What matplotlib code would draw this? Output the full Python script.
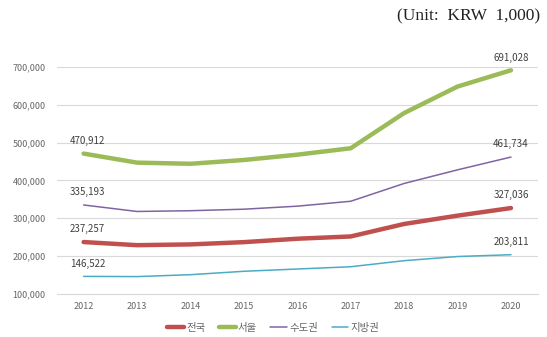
import matplotlib
matplotlib.use('Agg')
import matplotlib.pyplot as plt

plt.rcParams['font.family'] = ['Noto Sans CJK KR', 'DejaVu Sans']

# data
years = ['2012', '2013', '2014', '2015', '2016', '2017', '2018', '2019', '2020']
names = ['전국', '서울', '수도권', '지방권']
nation = [237257, 229000, 231000, 237000, 246000, 252000, 285000, 307000, 327036]
seoul = [470912, 447000, 444000, 454000, 468000, 485000, 578000, 648000, 691028]
capital = [335193, 318000, 320000, 324000, 332000, 345000, 392000, 428000, 461734]
local = [146522, 146000, 151000, 160000, 166000, 172000, 188000, 199000, 203811]
yticks = [100000, 200000, 300000, 400000, 500000, 600000, 700000]

series = [nation, seoul, capital, local]
colors = ['#C0504D', '#9BBB59', '#8064A2', '#4BACC6']
widths = [3.2, 3.2, 1.1, 1.1]

fig = plt.figure(figsize=(5.47, 3.37), dpi=100)
ax = fig.add_axes([0.104, 0.1276, 0.879, 0.674])

x = list(range(len(years)))
for vals, name, c, w in zip(series, names, colors, widths):
    ax.plot(x, vals, color=c, lw=w, label=name, solid_capstyle='round', clip_on=False, zorder=3)
    ax.text(x[0] + 0.07, vals[0] + 20000, f'{vals[0]:,}', ha='center', va='bottom',
            fontsize=7, color='#404040')
    ax.text(x[-1], vals[-1] + 20000, f'{vals[-1]:,}', ha='center', va='bottom',
            fontsize=7, color='#404040')

ax.set_xlim(-0.5, len(years) - 0.5)
ax.set_ylim(100000, 700000)
ax.set_xticks(x)
ax.set_xticklabels(years)
ax.set_yticks(yticks)
ax.set_yticklabels([f'{v:,}' for v in yticks])
ax.tick_params(axis='both', length=0, labelsize=6.5, colors='#666666')
ax.tick_params(axis='x', pad=6)
ax.tick_params(axis='y', pad=8)
ax.grid(axis='y', color='#D9D9D9', lw=0.8)
ax.set_axisbelow(True)
for s in ['top', 'right', 'left']:
    ax.spines[s].set_visible(False)
ax.spines['bottom'].set_color('#D9D9D9')

ax.legend(loc='center', bbox_to_anchor=(0.45, -0.15), ncol=4, frameon=False,
          fontsize=7.5, handlelength=1.6, handletextpad=0.2, columnspacing=1.3,
          labelcolor='#666666')

fig.text(0.988, 0.952, '(Unit:  KRW  1,000)', ha='right', va='center',
         fontsize=12.5, family='Liberation Serif', color='#222222')

fig.savefig('out.png', dpi=100)
